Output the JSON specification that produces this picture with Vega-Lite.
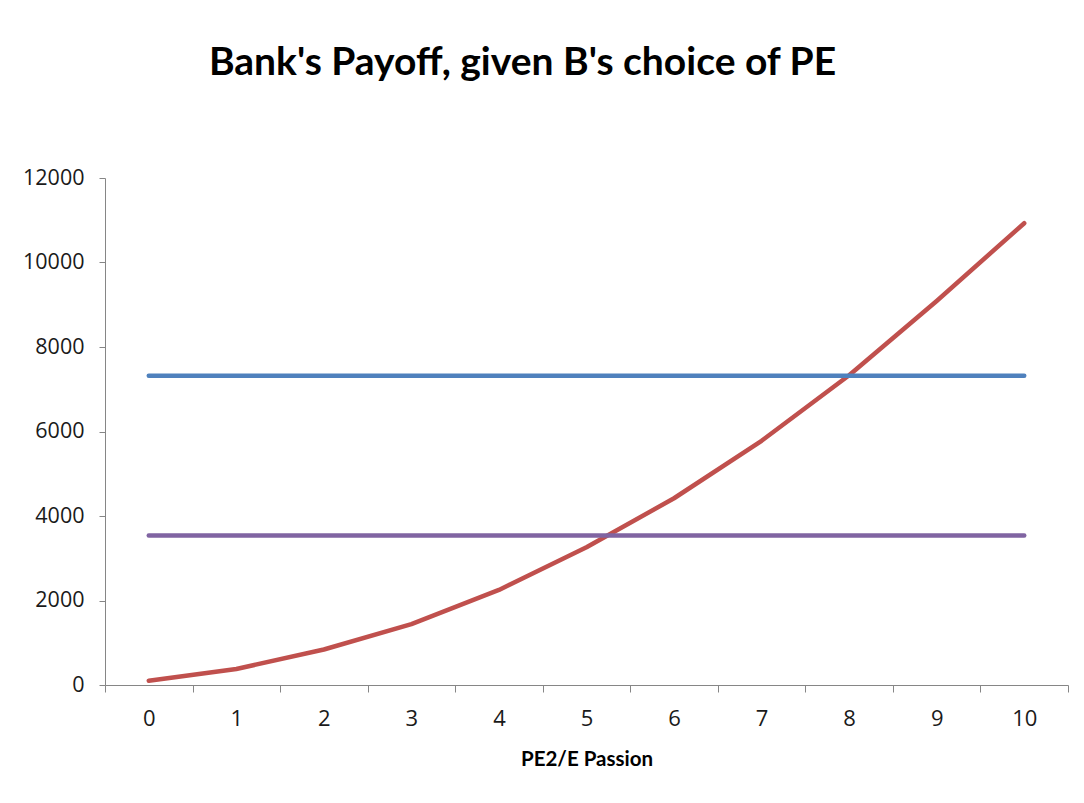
{
  "$schema": "https://vega.github.io/schema/vega-lite/v6.json",
  "width": 963,
  "height": 507,
  "autosize": "none",
  "padding": {"left": 105, "top": 178, "right": 16, "bottom": 118},
  "background": "white",
  "title": {
    "text": "Bank's Payoff, given B's choice of PE",
    "font": "Lato",
    "fontSize": 39,
    "fontWeight": "bold",
    "color": "black",
    "anchor": "middle",
    "dx": -64,
    "offset": 84
  },
  "data": {
    "values": [
      {"x": 0, "series": "A", "y": 100},
      {"x": 1, "series": "A", "y": 380},
      {"x": 2, "series": "A", "y": 840},
      {"x": 3, "series": "A", "y": 1440},
      {"x": 4, "series": "A", "y": 2250},
      {"x": 5, "series": "A", "y": 3260},
      {"x": 6, "series": "A", "y": 4420},
      {"x": 7, "series": "A", "y": 5780},
      {"x": 8, "series": "A", "y": 7330},
      {"x": 9, "series": "A", "y": 9090},
      {"x": 10, "series": "A", "y": 10930},
      {"x": 0, "series": "B", "y": 7320},
      {"x": 1, "series": "B", "y": 7320},
      {"x": 2, "series": "B", "y": 7320},
      {"x": 3, "series": "B", "y": 7320},
      {"x": 4, "series": "B", "y": 7320},
      {"x": 5, "series": "B", "y": 7320},
      {"x": 6, "series": "B", "y": 7320},
      {"x": 7, "series": "B", "y": 7320},
      {"x": 8, "series": "B", "y": 7320},
      {"x": 9, "series": "B", "y": 7320},
      {"x": 10, "series": "B", "y": 7320},
      {"x": 0, "series": "C", "y": 3540},
      {"x": 1, "series": "C", "y": 3540},
      {"x": 2, "series": "C", "y": 3540},
      {"x": 3, "series": "C", "y": 3540},
      {"x": 4, "series": "C", "y": 3540},
      {"x": 5, "series": "C", "y": 3540},
      {"x": 6, "series": "C", "y": 3540},
      {"x": 7, "series": "C", "y": 3540},
      {"x": 8, "series": "C", "y": 3540},
      {"x": 9, "series": "C", "y": 3540},
      {"x": 10, "series": "C", "y": 3540}
    ]
  },
  "mark": {"type": "line", "strokeWidth": 4.5, "strokeCap": "round", "strokeJoin": "round"},
  "encoding": {
    "x": {
      "field": "x",
      "type": "ordinal",
      "bandPosition": 0.5,
      "scale": {"type": "band", "paddingInner": 0, "paddingOuter": 0},
      "axis": {
        "title": "PE2/E Passion",
        "titleFont": "Lato",
        "titleFontSize": 20.5,
        "titleFontWeight": "bold",
        "titleColor": "black",
        "titlePadding": 20,
        "labelAngle": 0,
        "labelFont": "Open Sans",
        "labelFontSize": 22,
        "labelColor": "#1a1a1a",
        "labelPadding": 16,
        "tickBand": "extent",
        "tickSize": 7,
        "tickColor": "#868686",
        "domainColor": "#868686",
        "grid": false
      }
    },
    "y": {
      "field": "y",
      "type": "quantitative",
      "scale": {"domain": [0, 12000], "nice": false},
      "axis": {
        "title": null,
        "values": [0, 2000, 4000, 6000, 8000, 10000, 12000],
        "format": "d",
        "labelFont": "Open Sans",
        "labelFontSize": 21.5,
        "labelColor": "#1a1a1a",
        "labelPadding": 15,
        "tickSize": 6,
        "tickColor": "#868686",
        "domainColor": "#868686",
        "grid": false
      }
    },
    "color": {
      "field": "series",
      "type": "nominal",
      "scale": {"domain": ["A", "B", "C"], "range": ["#C0504D", "#4F81BD", "#8064A2"]},
      "legend": null
    }
  },
  "config": {"view": {"stroke": null}}
}
